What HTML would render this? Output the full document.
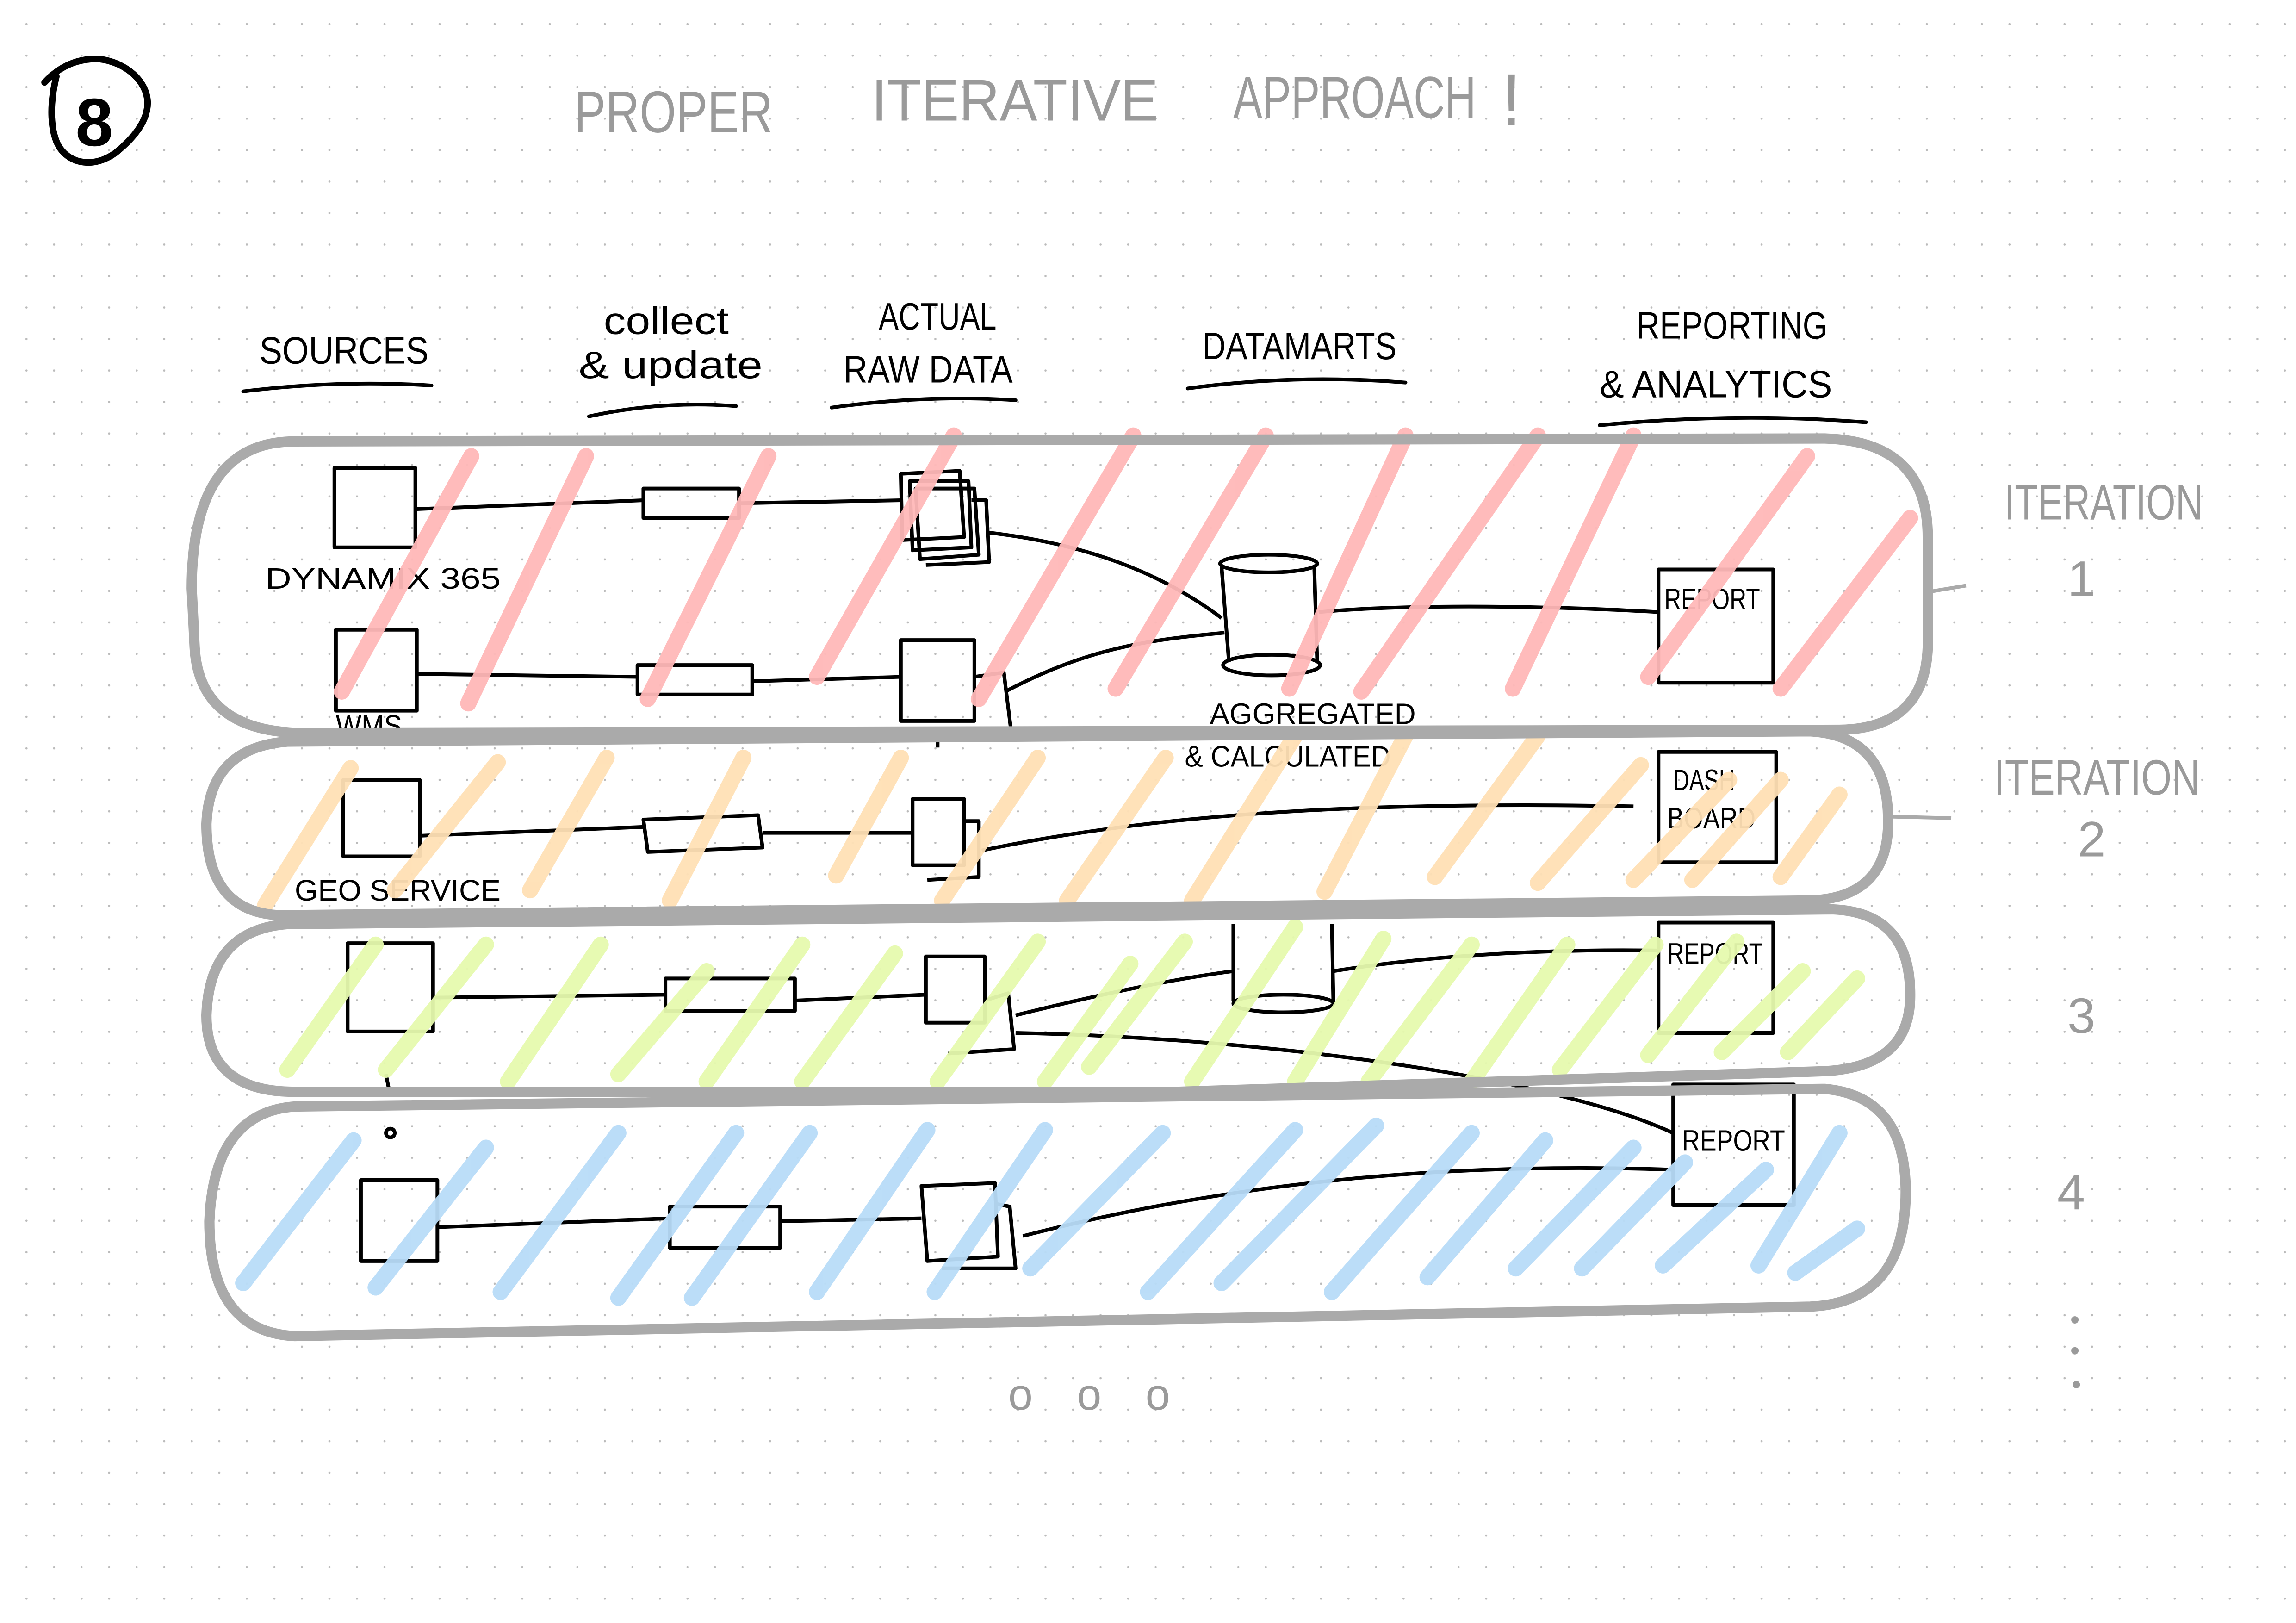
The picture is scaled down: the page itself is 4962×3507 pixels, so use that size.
<!DOCTYPE html>
<html><head><meta charset="utf-8"><style>
html,body{margin:0;padding:0;background:#fff;}
svg{display:block;}
text{font-family:"Liberation Sans",sans-serif;}
</style></head><body>
<svg width="4962" height="3507" viewBox="0 0 1560 1103" xmlns="http://www.w3.org/2000/svg">
<defs>
<pattern id="dots" x="17" y="15.7" width="18.72" height="21.4" patternUnits="userSpaceOnUse">
<circle cx="0.7" cy="0.7" r="0.75" fill="#bbb"/>
</pattern>
</defs>
<rect width="1560" height="1103" fill="#fff"/>
<rect width="1560" height="1103" fill="url(#dots)"/>

<!-- circled 8 -->
<path d="M30 56 C42 43 55 40 66 40 C86 42 100 56 100 70 C100 84 88 96 78 104 C64 114 48 112 40 100 C34 90 33 72 38 52" fill="none" stroke="#000" stroke-width="4.5" stroke-linecap="round"/>
<text x="51" y="99" font-size="46" font-weight="bold" fill="#000">8</text>

<!-- title -->
<g fill="#9a9a9a" font-size="40">
<text x="390" y="90" textLength="135" lengthAdjust="spacingAndGlyphs">PROPER</text>
<text x="592" y="82" textLength="195" lengthAdjust="spacingAndGlyphs">ITERATIVE</text>
<text x="838" y="80" textLength="165" lengthAdjust="spacingAndGlyphs">APPROACH</text>
<text x="1020" y="85" font-size="50">!</text>
</g>

<!-- headers -->
<g fill="#000" font-size="26">
<text x="176" y="247" textLength="115" lengthAdjust="spacingAndGlyphs">SOURCES</text>
<text x="410" y="227" textLength="85" lengthAdjust="spacingAndGlyphs">collect</text>
<text x="393" y="257" textLength="125" lengthAdjust="spacingAndGlyphs">&amp; update</text>
<text x="597" y="224" textLength="80" lengthAdjust="spacingAndGlyphs">ACTUAL</text>
<text x="573" y="260" textLength="115" lengthAdjust="spacingAndGlyphs">RAW DATA</text>
<text x="817" y="244" textLength="132" lengthAdjust="spacingAndGlyphs">DATAMARTS</text>
<text x="1112" y="230" textLength="130" lengthAdjust="spacingAndGlyphs">REPORTING</text>
<text x="1087" y="270" textLength="158" lengthAdjust="spacingAndGlyphs">&amp; ANALYTICS</text>
</g>
<g stroke="#000" stroke-width="2.5" fill="none" stroke-linecap="round">
<path d="M165 266 Q230 258 293 262"/>
<path d="M400 283 Q450 272 500 276"/>
<path d="M565 277 Q630 268 690 272"/>
<path d="M807 264 Q880 254 955 260"/>
<path d="M1087 289 Q1180 280 1268 287"/>
</g>

<!-- black nodes & lines -->
<g stroke="#000" stroke-width="2.5" fill="none" stroke-linejoin="round">
<rect x="227" y="318" width="55" height="54"/>
<path d="M282 346 L437 340"/>
<rect x="437" y="332" width="65" height="20"/>
<path d="M502 342 L612 340"/>
<path d="M622 332 l40 0 l3 45 l-40 3z M618 327 l40 0 l2 45 l-40 2z"/>
<path d="M660 340 l10 0 l2 42 l-43 2"/>
<path d="M612 322 l40 -2 l3 45 l-42 2z"/>
<path d="M672 362 C740 370 790 390 830 420"/>
<path d="M830 385 L835 450 M893 385 L895 450"/>
<ellipse cx="862" cy="383" rx="33" ry="6"/>
<ellipse cx="864" cy="452" rx="33" ry="7"/>
<path d="M896 416 C960 410 1060 412 1127 416"/>
<rect x="1127" y="387" width="78" height="77"/>
<rect x="228" y="428" width="55" height="55"/>
<path d="M283 458 L433 460"/>
<rect x="433" y="452" width="78" height="20"/>
<path d="M511 463 L612 460"/>
<rect x="612" y="435" width="50" height="55"/>
<path d="M662 460 l20 -3 l5 40 l-50 3 l0 8"/>
<path d="M683 470 C740 440 780 435 832 430"/>
<rect x="233" y="530" width="52" height="52"/>
<path d="M285 568 L437 562"/>
<path d="M437 557 l78 -3 l3 22 l-78 3z"/>
<path d="M518 566 L620 566"/>
<rect x="620" y="543" width="35" height="45"/>
<path d="M655 558 l10 0 l0 38 l-35 2"/>
<path d="M667 578 C800 550 950 545 1110 548"/>
<rect x="1127" y="511" width="80" height="75"/>
<rect x="236" y="641" width="58" height="60"/>
<path d="M294 678 L452 676"/>
<rect x="452" y="665" width="88" height="22"/>
<path d="M540 680 L629 676"/>
<rect x="629" y="650" width="40" height="45"/>
<path d="M669 680 l16 -5 l4 38 l-45 3"/>
<path d="M690 690 C750 675 800 665 838 660"/>
<path d="M838 628 L838 680 M905 628 L906 682"/>
<ellipse cx="872" cy="682" rx="34" ry="6"/>
<path d="M906 660 C980 648 1060 645 1127 646"/>
<rect x="1127" y="627" width="78" height="75"/>
<path d="M690 702 C850 705 1050 730 1137 770"/>
<rect x="1137" y="737" width="82" height="82"/>
<path d="M262 730 l2 10"/><circle cx="265" cy="770" r="3"/>
<rect x="245" y="802" width="52" height="55"/>
<path d="M297 834 L455 828"/>
<rect x="455" y="820" width="75" height="28"/>
<path d="M530 830 L626 828"/>
<path d="M626 806 l50 -2 l2 50 l-48 3z"/>
<path d="M676 818 l10 2 l4 42 l-50 0"/>
<path d="M695 840 C850 800 1000 790 1138 795"/>
</g>

<g fill="#000" font-size="20">
<text x="180" y="400" textLength="160" lengthAdjust="spacingAndGlyphs">DYNAMIX 365</text>
<text x="228" y="500" textLength="45" lengthAdjust="spacingAndGlyphs">WMS</text>
<text x="822" y="492" textLength="140" lengthAdjust="spacingAndGlyphs">AGGREGATED</text>
<text x="805" y="521" textLength="140" lengthAdjust="spacingAndGlyphs">&amp; CALCULATED</text>
<text x="1131" y="414" textLength="65" lengthAdjust="spacingAndGlyphs">REPORT</text>
<text x="1137" y="537" textLength="42" lengthAdjust="spacingAndGlyphs">DASH</text>
<text x="1133" y="563" textLength="60" lengthAdjust="spacingAndGlyphs">BOARD</text>
<text x="200" y="612" textLength="140" lengthAdjust="spacingAndGlyphs">GEO SERVICE</text>
<text x="1133" y="655" textLength="65" lengthAdjust="spacingAndGlyphs">REPORT</text>
<text x="1143" y="782" textLength="70" lengthAdjust="spacingAndGlyphs">REPORT</text>
</g>

<g stroke-linecap="round" fill="none" stroke-width="11" opacity="0.95">
<g stroke="#ffb8b8">
<path d="M232 470 L320 310"/><path d="M318 478 L398 310"/><path d="M440 475 L522 310"/><path d="M555 460 L648 296"/><path d="M665 475 L770 296"/><path d="M758 468 L860 296"/><path d="M876 468 L955 296"/><path d="M1028 468 L1110 296"/><path d="M1120 460 L1228 310"/><path d="M1210 468 L1298 352"/><path d="M925 470 L1045 296"/>
</g>
<g stroke="#ffe0b5">
<path d="M180 615 L238 522"/><path d="M268 605 L338 518"/><path d="M360 605 L412 515"/><path d="M455 612 L505 515"/><path d="M568 595 L612 515"/><path d="M640 612 L705 515"/><path d="M725 612 L792 515"/><path d="M810 612 L880 500"/><path d="M900 606 L955 500"/><path d="M975 596 L1045 500"/><path d="M1045 600 L1115 520"/><path d="M1110 598 L1175 530"/><path d="M1150 598 L1210 530"/><path d="M1210 596 L1250 540"/>
</g>
<g stroke="#e6faae">
<path d="M195 727 L255 642"/><path d="M262 727 L330 642"/><path d="M345 735 L408 642"/><path d="M420 730 L480 660"/><path d="M480 735 L545 642"/><path d="M545 735 L608 648"/><path d="M637 735 L705 640"/><path d="M710 735 L768 655"/><path d="M740 725 L805 640"/><path d="M810 735 L880 630"/><path d="M880 735 L940 638"/><path d="M930 735 L1000 642"/><path d="M1000 735 L1065 642"/><path d="M1060 727 L1125 642"/><path d="M1120 717 L1180 640"/><path d="M1170 715 L1225 660"/><path d="M1215 715 L1262 665"/>
</g>
<g stroke="#b8dcf8">
<path d="M165 872 L240 775"/><path d="M255 875 L330 780"/><path d="M340 878 L420 770"/><path d="M420 882 L500 770"/><path d="M470 882 L550 770"/><path d="M555 878 L630 768"/><path d="M635 878 L710 768"/><path d="M700 862 L790 770"/><path d="M780 878 L880 768"/><path d="M830 872 L935 765"/><path d="M905 878 L1000 770"/><path d="M970 868 L1050 775"/><path d="M1030 862 L1110 780"/><path d="M1075 862 L1145 790"/><path d="M1130 860 L1200 795"/><path d="M1195 860 L1250 770"/><path d="M1220 865 L1262 835"/>
</g>
</g>

<g fill="none" stroke="#aaa" stroke-width="7" stroke-linejoin="round">
<path d="M200 300 L1240 298 Q1310 300 1310 365 L1310 440 Q1308 495 1250 496 L200 498 Q135 495 132 440 L130 400 Q130 300 200 300Z"/>
<path d="M195 504 L1230 497 Q1282 500 1283 555 Q1285 610 1230 612 L190 622 Q140 620 140 560 Q142 508 195 504Z"/>
<path d="M195 628 L1245 618 Q1300 620 1298 680 Q1296 725 1240 728 L800 742 L200 742 Q140 742 140 690 Q142 632 195 628Z"/>
<path d="M200 752 L1240 740 Q1295 745 1295 810 Q1295 885 1230 888 L200 908 Q142 905 142 830 Q145 756 200 752Z"/>
</g>

<g stroke="#aaa" stroke-width="2.5" fill="none">
<path d="M1312 402 L1336 398"/><path d="M1285 555 L1326 556"/>
</g>
<g fill="#9a9a9a" font-size="34">
<text x="1362" y="353" textLength="135" lengthAdjust="spacingAndGlyphs">ITERATION</text>
<text x="1405" y="405">1</text>
<text x="1355" y="540" textLength="140" lengthAdjust="spacingAndGlyphs">ITERATION</text>
<text x="1412" y="582">2</text>
<text x="1405" y="702">3</text>
<text x="1398" y="822">4</text>
<text x="685" y="958" font-size="30" textLength="110" lengthAdjust="spacing">o o o</text>
</g>
<g fill="#9a9a9a"><circle cx="1410" cy="897" r="2.5"/><circle cx="1410" cy="918" r="2.5"/><circle cx="1411" cy="941" r="2.5"/></g>
</svg>
</body></html>
